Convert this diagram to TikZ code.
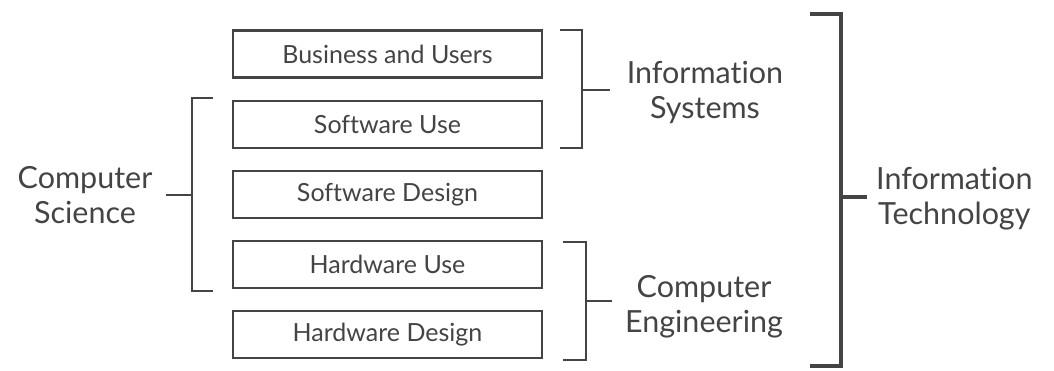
\documentclass[tikz,border=0pt]{standalone}
\usepackage{fontspec}
\setmainfont{Lato}[Ligatures={NoCommon,NoRare}]
\definecolor{ink}{HTML}{444444}
\begin{document}
\begin{tikzpicture}[x=1pt,y=-1pt,
  area/.style={draw=ink, line width=2.8pt, minimum width=309pt, minimum height=47pt,
               inner sep=0pt, text=ink, font=\fontsize{25}{30}\selectfont},
  field/.style={text=ink, align=center, font=\fontsize{30.5}{35}\selectfont, inner sep=0pt},
  brace/.style={draw=ink, line width=2.8pt},
  bigbrace/.style={draw=ink, line width=4pt}]
\useasboundingbox (0,0) rectangle (1054,371);

% the five areas of study
\node[area] (bu) at (387.5,54)    {Business and Users};
\node[area] (su) at (387.5,124.5) {Software Use};
\node[area] (sd) at (387.5,194.5) {Software Design};
\node[area] (hu) at (387.5,264.5) {Hardware Use};
\node[area] (hd) at (387.5,334.5) {Hardware Design};

% discipline labels
\node[field] (cs) at (85,195)  {Computer\\Science};
\node[field] (is) at (705,92)  {Information\\Systems};
\node[field] (ce) at (704,307) {Computer\\Engineering};
\node[field, anchor=west] (it) at (876,199) {Information\\Technology};

% Computer Science bracket
\coordinate (csT) at (192,98);
\coordinate (csB) at (192,291);
\coordinate (csM) at (192,195);
\coordinate (csL) at (166,195);
\draw[brace] (213,98) -- (csT) -- (csB) -- (213,291);
\draw[brace] (csM) -- (csL);

% Information Systems bracket
\coordinate (isM) at (582,90);
\coordinate (isR) at (610,90);
\draw[brace] (560,30) -- (582,30) -- (582,148) -- (560,148);
\draw[brace] (isM) -- (isR);

% Computer Engineering bracket
\coordinate (ceM) at (586,301);
\coordinate (ceR) at (612,301);
\draw[brace] (563,242) -- (586,242) -- (586,360) -- (563,360);
\draw[brace] (ceM) -- (ceR);

% Information Technology bracket
\coordinate (itM) at (841,197);
\coordinate (itR) at (867,197);
\draw[bigbrace] (810,14) -- (841,14) -- (841,366) -- (810,366);
\draw[bigbrace] (itM) -- (itR);
\end{tikzpicture}
\end{document}
